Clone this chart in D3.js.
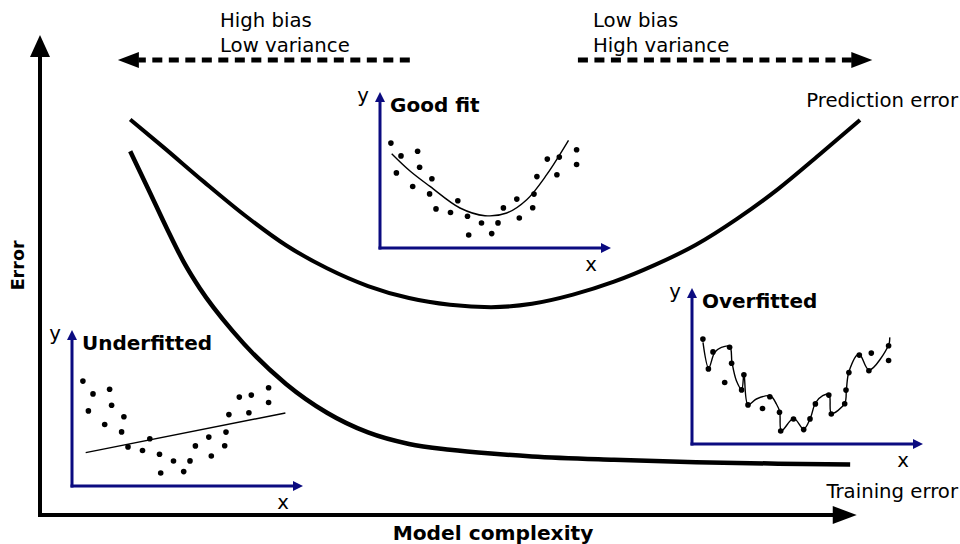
<!DOCTYPE html>
<html>
<head>
<meta charset="utf-8">
<script src="https://cdn.jsdelivr.net/npm/d3@7"></script>
<style>
  body { margin: 0; background: #fff; }
  text { font-family: "DejaVu Sans", sans-serif; fill: #000; }
</style>
</head>
<body>
<svg id="chart" width="960" height="544"></svg>
<script>
// ---- Error against model complexity (arbitrary units) ----
const predComplexity = [1.1, 1.5, 2.0, 2.5, 3.0, 3.5, 4.0, 4.5, 5.0, 5.5, 6.0, 6.5, 7.0, 7.5, 8.0, 8.5, 9.0, 9.5, 10.0];
const predictionError = [8.24, 7.67, 6.94, 6.24, 5.62, 5.14, 4.77, 4.52, 4.38, 4.33, 4.40, 4.59, 4.86, 5.21, 5.63, 6.17, 6.79, 7.50, 8.23];

const trainComplexity = [1.1, 1.34, 1.55, 1.75, 1.95, 2.35, 3.0, 3.5, 4.0, 4.5, 5.0, 5.5, 6.0, 7.0, 8.0, 9.0, 9.88];
const trainingError = [7.58, 6.72, 5.96, 5.28, 4.72, 3.83, 2.73, 2.13, 1.72, 1.48, 1.36, 1.28, 1.22, 1.15, 1.10, 1.07, 1.05];

// ---- Sample used in the three small fit panels (panel units) ----
const sampleX = [1.09, 2.10, 3.76, 1.64, 3.96, 5.19, 3.27, 4.96, 5.60, 7.78, 7.05, 8.75, 10.15, 11.80, 8.87, 11.17, 12.34, 13.68, 13.93, 15.27, 15.40, 15.69, 16.73, 17.93, 17.69, 19.66, 19.66];
const sampleY = [10.49, 9.21, 9.68, 7.51, 8.07, 6.92, 6.15, 5.41, 3.91, 4.72, 3.55, 3.17, 2.50, 2.51, 1.30, 1.44, 4.01, 4.89, 3.00, 4.02, 5.39, 7.14, 8.89, 9.09, 7.33, 9.82, 8.35];

// straight-line fit
const underFitX = [1.37, 21.34];
const underFitY = [3.34, 7.30];

// smooth curve fit
const goodFitX = [1.17, 3.0, 5.0, 8.0, 10.5, 12.67, 14.67, 16.67, 18.85];
const goodFitY = [9.43, 7.7, 6.16, 4.0, 3.23, 3.5, 4.83, 7.33, 10.76];

// curve that chases every point
const overFitX = [1.1, 1.67, 2.27, 2.94, 3.77, 4.0, 4.44, 4.97, 5.2, 5.6, 6.44, 7.84, 8.44, 8.77, 8.94, 10.17, 11.17, 11.84, 12.34, 13.07, 13.7, 13.94, 15.27, 15.44, 15.7, 16.7, 17.7, 19.67, 19.77];
const overFitY = [10.16, 7.6, 9.16, 9.66, 9.76, 8.16, 6.33, 5.46, 7.03, 3.93, 4.5, 4.8, 4.0, 3.23, 1.33, 2.56, 1.5, 2.6, 4.1, 4.83, 4.96, 3.06, 4.06, 5.46, 7.26, 9.0, 7.4, 9.93, 10.66];

const svg = d3.select("#chart");
const NAVY = "#0b0b80";
const FONT = 19.7;

// main scales
const x = d3.scaleLinear().domain([0, 10]).range([40, 860]);
const y = d3.scaleLinear().domain([0, 10]).range([515, 35]);

function arrowHead(g, tip, dir, len, half, color) {
  // dir: unit vector pointing toward the tip
  const [tx, ty] = tip, [dx, dy] = dir;
  const bx = tx - dx * len, by = ty - dy * len;
  const px = -dy, py = dx;
  g.append("path")
    .attr("d", `M${tx},${ty}L${bx + px * half},${by + py * half}L${bx - px * half},${by - py * half}Z`)
    .attr("fill", color);
}

// ---- main axes ----
const axes = svg.append("g");
axes.append("line").attr("x1", x(0)).attr("y1", y(0)).attr("x2", x(0)).attr("y2", y(10) + 18)
  .attr("stroke", "#000").attr("stroke-width", 4);
arrowHead(axes, [x(0), y(10)], [0, -1], 22, 10, "#000");
axes.append("line").attr("x1", x(0) - 2).attr("y1", y(0)).attr("x2", x(9.75)).attr("y2", y(0))
  .attr("stroke", "#000").attr("stroke-width", 4);
arrowHead(axes, [x(9.96), y(0)], [1, 0], 24, 9, "#000");

svg.append("text").attr("transform", `translate(24,${y(5.2)}) rotate(-90)`)
  .attr("text-anchor", "middle").attr("font-weight", "bold").attr("font-size", 17.5).text("Error");
svg.append("text").attr("x", 493).attr("y", 540).attr("text-anchor", "middle")
  .attr("font-weight", "bold").attr("font-size", 20.2).text("Model complexity");

// ---- error curves ----
const line = d3.line().x(d => x(d[0])).y(d => y(d[1])).curve(d3.curveMonotoneX);
svg.append("path").datum(d3.zip(predComplexity, predictionError)).attr("d", line)
  .attr("fill", "none").attr("stroke", "#000").attr("stroke-width", 4).attr("stroke-linecap", "butt");
svg.append("path").datum(d3.zip(trainComplexity, trainingError)).attr("d", line)
  .attr("fill", "none").attr("stroke", "#000").attr("stroke-width", 4.5).attr("stroke-linecap", "butt");

svg.append("text").attr("x", 958).attr("y", 107).attr("text-anchor", "end").attr("font-size", FONT).text("Prediction error");
svg.append("text").attr("x", 958).attr("y", 498).attr("text-anchor", "end").attr("font-size", FONT).text("Training error");

// ---- bias / variance direction arrows ----
const dirs = svg.append("g");
const arrowY = y(9.48);
dirs.append("line").attr("x1", x(4.51)).attr("x2", x(1.2)).attr("y1", arrowY).attr("y2", arrowY)
  .attr("stroke", "#000").attr("stroke-width", 5).attr("stroke-dasharray", "10,6.5");
arrowHead(dirs, [x(0.95), arrowY], [-1, 0], 21, 8, "#000");
dirs.append("line").attr("x1", x(6.56)).attr("x2", x(9.9)).attr("y1", arrowY).attr("y2", arrowY)
  .attr("stroke", "#000").attr("stroke-width", 5).attr("stroke-dasharray", "10,6.5");
arrowHead(dirs, [x(10.15), arrowY], [1, 0], 21, 8, "#000");

[["High bias", 220, 27], ["Low variance", 220, 52], ["Low bias", 593, 27], ["High variance", 593, 52]]
  .forEach(([t, tx, ty]) => svg.append("text").attr("x", tx).attr("y", ty).attr("font-size", FONT).text(t));

// ---- small fit panels ----
const ix = d3.scaleLinear().domain([0, 23.1]).range([0, 231]);
const iy = d3.scaleLinear().domain([0, 15.6]).range([0, -156]);
const fitLine = d3.line().x(d => ix(d[0])).y(d => iy(d[1])).curve(d3.curveCatmullRom.alpha(0.5));

const panels = [
  { title: "Underfitted", ox: 72, oy: 486, fx: underFitX, fy: underFitY },
  { title: "Good fit",    ox: 380, oy: 248, fx: goodFitX, fy: goodFitY },
  { title: "Overfitted",  ox: 692, oy: 444, fx: overFitX, fy: overFitY }
];

panels.forEach(p => {
  const g = svg.append("g").attr("transform", `translate(${p.ox},${p.oy})`);
  g.append("line").attr("x1", ix(0)).attr("y1", iy(0) + 1.5).attr("x2", ix(0)).attr("y2", iy(14.9))
    .attr("stroke", NAVY).attr("stroke-width", 3);
  arrowHead(g, [ix(0), iy(15.6)], [0, -1], 10, 5, NAVY);
  g.append("line").attr("x1", ix(0) - 1.5).attr("y1", iy(0)).attr("x2", ix(22.3)).attr("y2", iy(0))
    .attr("stroke", NAVY).attr("stroke-width", 3);
  arrowHead(g, [ix(23.1), iy(0)], [1, 0], 10, 5, NAVY);

  g.append("text").attr("x", ix(-1.7)).attr("y", iy(14.6)).attr("text-anchor", "middle")
    .attr("font-size", FONT).text("y");
  g.append("text").attr("x", ix(21.1)).attr("y", iy(-2.3)).attr("text-anchor", "middle")
    .attr("font-size", FONT).text("x");
  g.append("text").attr("x", ix(1.0)).attr("y", iy(13.6)).attr("font-size", 20)
    .attr("font-weight", "bold").text(p.title);

  g.append("path").datum(d3.zip(p.fx, p.fy)).attr("d", fitLine)
    .attr("fill", "none").attr("stroke", "#000").attr("stroke-width", 1.4);

  g.selectAll("circle").data(d3.zip(sampleX, sampleY)).join("circle")
    .attr("cx", d => ix(d[0])).attr("cy", d => iy(d[1])).attr("r", 2.8).attr("fill", "#000");
});
</script>
</body>
</html>
